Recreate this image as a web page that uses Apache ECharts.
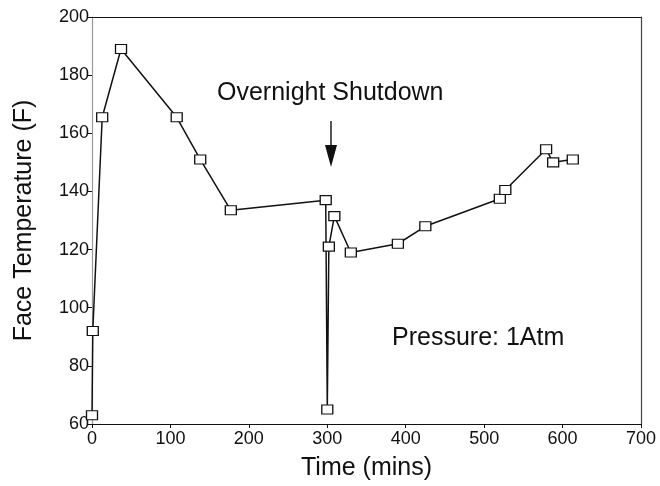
<!DOCTYPE html>
<html>
<head>
<meta charset="utf-8">
<script src="https://cdn.jsdelivr.net/npm/echarts@6/dist/echarts.min.js"></script>
<style>
  html, body { margin: 0; padding: 0; background: #fff; }
  #chart { width: 660px; height: 486px; }
</style>
</head>
<body>
<div id="chart"></div>
<script>
  // time (mins) and face temperature (F), in the order the line joins them
  const timeMins = [0, 1, 13, 37, 108, 138, 177, 298, 300, 302, 309, 330, 390, 425, 520, 527, 579, 588, 613];
  const faceTemp = [63, 92, 165.5, 189, 165.5, 151, 133.5, 137, 65, 121, 131.5, 119, 122, 128, 137.5, 140.5, 154.5, 150, 151];
  const xTicks = [0, 100, 200, 300, 400, 500, 600, 700];
  const yTicks = [60, 80, 100, 120, 140, 160, 180, 200];

  const font = 'Liberation Sans, Arial, Helvetica, sans-serif';
  const chart = echarts.init(document.getElementById('chart'));

  const points = timeMins.map((t, i) => [t, faceTemp[i]]);

  // axis used only to draw the top and right edges of the frame
  const frameAxis = (color) => ({
    show: true,
    axisLine: { show: true, onZero: false, lineStyle: { color: color, width: 1.2 } },
    axisTick: { show: false },
    axisLabel: { show: false },
    splitLine: { show: false }
  });

  const option = {
    backgroundColor: '#fff',
    animation: false,
    grid: { left: 92, right: 19, top: 17, bottom: 59 },
    xAxis: [{
      type: 'value',
      min: xTicks[0],
      max: xTicks[xTicks.length - 1],
      interval: 100,
      name: 'Time (mins)',
      nameLocation: 'middle',
      nameGap: 32,
      nameTextStyle: { fontFamily: font, fontSize: 25, color: '#111' },
      axisLine: { onZero: false, lineStyle: { color: '#111', width: 1.2 } },
      axisTick: { show: true, inside: false, length: 4, lineStyle: { color: '#111' } },
      axisLabel: { fontFamily: font, fontSize: 18, color: '#111', margin: 6 },
      splitLine: { show: false }
    }, Object.assign({ type: 'value', position: 'top', min: 0, max: 700 }, frameAxis('#111'))],
    yAxis: [{
      type: 'value',
      min: yTicks[0],
      max: yTicks[yTicks.length - 1],
      interval: 20,
      name: 'Face Temperature (F)',
      nameLocation: 'middle',
      nameGap: 55,
      nameRotate: 90,
      nameTextStyle: { fontFamily: font, fontSize: 25, color: '#111' },
      axisLine: { onZero: false, lineStyle: { color: '#999', width: 1.2 } },
      axisTick: { show: true, inside: false, length: 5, lineStyle: { color: '#111' } },
      axisLabel: { fontFamily: font, fontSize: 18, color: '#111', margin: 3 },
      splitLine: { show: false }
    }, Object.assign({ type: 'value', position: 'right', min: 60, max: 200 }, frameAxis('#444'))],
    series: [{
      type: 'line',
      data: points,
      symbol: 'rect',
      symbolSize: [11, 9],
      showAllSymbol: true,
      lineStyle: { color: '#111', width: 1.5 },
      itemStyle: { color: '#fff', borderColor: '#111', borderWidth: 1.2 },
      z: 3
    }],
    graphic: [
      {
        type: 'text',
        left: 217,
        top: 81,
        style: { text: 'Overnight Shutdown', font: '25px ' + font, fill: '#111' }
      },
      {
        type: 'line',
        shape: { x1: 331, y1: 121, x2: 331, y2: 150 },
        style: { stroke: '#111', lineWidth: 1.4 }
      },
      {
        type: 'polygon',
        shape: { points: [[325, 145], [337, 145], [331, 167]] },
        style: { fill: '#111' }
      },
      {
        type: 'text',
        left: 392,
        top: 326,
        style: { text: 'Pressure: 1Atm', font: '25px ' + font, fill: '#111' }
      }
    ]
  };

  chart.setOption(option);
</script>
</body>
</html>
